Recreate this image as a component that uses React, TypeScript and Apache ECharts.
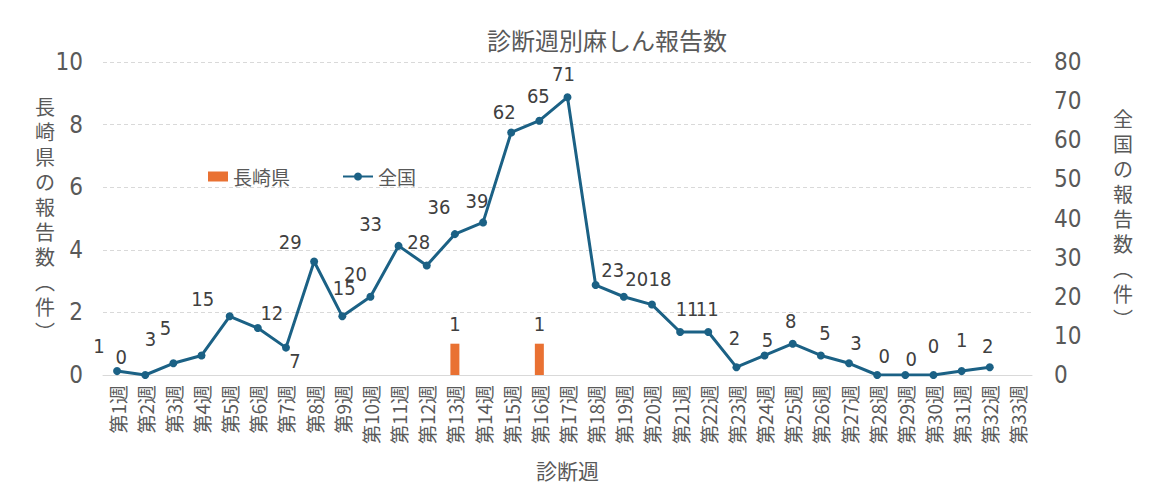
import React, { useEffect, useRef } from "react";
import * as echarts from "echarts";

const weeks: string[] = Array.from({ length: 33 }, (_, i) => `第${i + 1}週`);
const nagasaki: (number | null)[] = [
  null, null, null, null, null, null, null, null, null, null, null, null, 1, null, null, 1,
  null, null, null, null, null, null, null, null, null, null, null, null, null, null, null, null, null,
];
const national: (number | null)[] = [
  1, 0, 3, 5, 15, 12, 7, 29, 15, 20, 33, 28, 36, 39, 62, 65, 71, 23, 20, 18, 11, 11, 2, 5, 8, 5, 3, 0, 0, 0, 1, 2, null,
];
const leftTicks = [0, 10, 2];
const rightTicks = [0, 80, 10];

// label nudges (style only), pixels relative to each point
const labelNudge: [number, number][] = [
  [-18, -25], [-24, -18], [-23, -24], [-36, -27], [-27, -17], [14, -15], [9, 13], [-24, -20],
  [2, -28], [-15, -23], [-28, -22], [-8, -23], [-16, -27], [-6, -21], [-7, -20], [-1, -25],
  [-4, -23], [17, -15], [13, -18], [8, -26], [7, -23], [-1, -23], [-2, -29], [3, -15],
  [-2, -23], [4, -22], [7, -20], [7, -19], [6, -16], [0, -29], [0, -31], [-2, -21], [0, -20],
];

const CJK = "'Noto Sans CJK JP', 'Noto Sans', sans-serif";
const NUM = "'Liberation Sans Narrow', 'DejaVu Sans Condensed', 'Noto Sans CJK JP', sans-serif";
const vert = (s: string) => s.split("").join("\n");

export default function App() {
  const ref = useRef<HTMLDivElement>(null);
  useEffect(() => {
    if (!ref.current) return;
    const chart = echarts.init(ref.current, undefined, { renderer: "svg" });
    const nameStyle = {
      fontFamily: CJK,
      fontSize: 20,
      color: "#595959",
      lineHeight: 25,
      align: "center",
      padding: [40, 0, 0, 0],
    };
    chart.setOption({
      animation: false,
      textStyle: { fontFamily: CJK },
      title: {
        text: "診断週別麻しん報告数",
        left: 474,
        top: 14,
        textStyle: { fontFamily: CJK, fontSize: 24, fontWeight: "normal", color: "#595959" },
      },
      legend: [
        {
          left: 195,
          top: 154,
          itemWidth: 20,
          itemHeight: 10,
          itemGap: 10,
          textStyle: { fontFamily: CJK, fontSize: 19, color: "#595959" },
          data: [{ name: "長崎県", icon: "rect" }],
        },
        {
          left: 329,
          top: 154,
          itemWidth: 30,
          itemHeight: 10,
          textStyle: { fontFamily: CJK, fontSize: 19, color: "#595959" },
          data: [{ name: "全国" }],
        },
      ],
      grid: { left: 95, right: 122, top: 54, bottom: 116, outerBoundsMode: "none", containLabel: false },
      xAxis: {
        type: "category",
        data: weeks,
        name: "診断週",
        nameLocation: "middle",
        nameGap: 84,
        nameTextStyle: { fontFamily: CJK, fontSize: 21, color: "#595959" },
        axisLine: { lineStyle: { color: "#d9d9d9" } },
        axisTick: { show: false },
        axisLabel: { rotate: 90, interval: 0, fontSize: 19, color: "#595959", fontFamily: CJK, margin: 10 },
      },
      yAxis: [
        {
          type: "value",
          min: leftTicks[0],
          max: leftTicks[1],
          interval: leftTicks[2],
          name: vert("長崎県の報告数︵件︶"),
          nameLocation: "middle",
          nameGap: 58,
          nameRotate: 0,
          nameMoveOverlap: false,
          nameTextStyle: nameStyle,
          axisLabel: { fontSize: 24, color: "#595959", fontFamily: NUM, margin: 20 },
          axisLine: { show: false },
          axisTick: { show: false },
          splitLine: { lineStyle: { color: "#d9d9d9", type: [4, 3] } },
        },
        {
          type: "value",
          min: rightTicks[0],
          max: rightTicks[1],
          interval: rightTicks[2],
          name: vert("全国の報告数︵件︶"),
          nameLocation: "middle",
          nameGap: 91,
          nameRotate: 0,
          nameMoveOverlap: false,
          nameTextStyle: nameStyle,
          axisLabel: { fontSize: 24, color: "#595959", fontFamily: NUM, margin: 22 },
          axisLine: { show: false },
          axisTick: { show: false },
          splitLine: { show: false },
        },
      ],
      series: [
        {
          name: "長崎県",
          type: "bar",
          yAxisIndex: 0,
          data: nagasaki,
          barWidth: 9,
          itemStyle: { color: "#E97132" },
          label: {
            show: true,
            position: "top",
            distance: 10,
            fontSize: 20,
            color: "#404040",
            fontFamily: NUM,
          },
        },
        {
          name: "全国",
          type: "line",
          yAxisIndex: 1,
          data: national.map((v, i) => ({
            value: v,
            label: { offset: labelNudge[i] },
          })),
          symbol: "circle",
          symbolSize: 8,
          lineStyle: { color: "#1B6185", width: 3 },
          itemStyle: { color: "#1B6185" },
          label: {
            show: true,
            position: "inside",
            align: "center",
            verticalAlign: "middle",
            fontSize: 20,
            color: "#404040",
            fontFamily: NUM,
          },
        },
      ],
    });
    return () => chart.dispose();
  }, []);
  return <div ref={ref} style={{ width: 1146, height: 483 }} />;
}
